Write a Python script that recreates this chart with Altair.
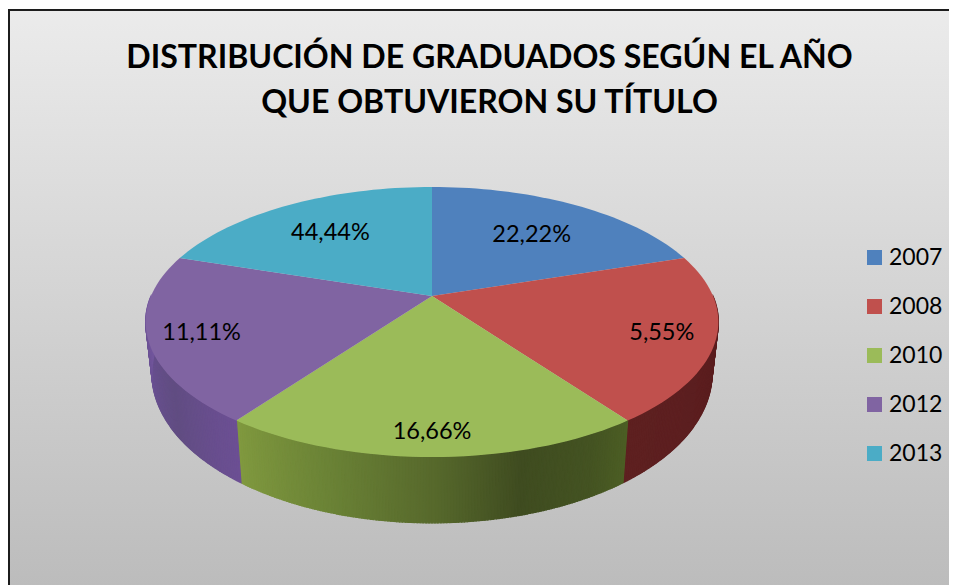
import math
import altair as alt

# ---- values
years = ["2007", "2008", "2010", "2012", "2013"]
slice_share = [20, 20, 20, 20, 20]  # the slices are drawn equal in the picture
slice_labels = ["22,22%", "5,55%", "16,66%", "11,11%", "44,44%"]
label_radius = [0.666, 0.818, 0.86, 0.82, 0.68]
top_colors = ["#4f81bd", "#c0504d", "#9bbb59", "#8064a2", "#4bacc6"]
title_lines = ["DISTRIBUCIÓN DE GRADUADOS SEGÚN EL AÑO", "QUE OBTUVIERON SU TÍTULO"]
side_angle_stops = [90, 100, 144, 144.01, 152, 165, 180, 198, 216, 216.01, 235, 255, 270]
side_color_stops = ["#702524", "#5a1d1f", "#5e2020", "#4c5e24", "#445322", "#3f4c20",
                    "#57692c", "#6b8336", "#80993f", "#6c4f94", "#614d82", "#6a5193", "#7558a0"]

FONT = "Lato"
OFFSET = 8  # page margin


# ---- tilted-circle projection of the pie (page pixels minus margin)
def top_face(rho, theta):
    u = rho * math.cos(theta)
    v = rho * math.sin(theta)
    w = 1 + 0.1926 * u
    return [432 - OFFSET + 281 * v / w, (296 - 73 * u) / w - OFFSET]


def bottom_face(theta):
    u, v = math.cos(theta), math.sin(theta)
    w = 1 + 0.19 * u
    return [432 - OFFSET + 275 * v / w, (345 - 78.5 * u) / w - OFFSET]


def hex_rgb(h):
    return [int(h[i:i + 2], 16) for i in (1, 3, 5)]


def side_color(deg):
    for i in range(len(side_angle_stops) - 1):
        a, b = side_angle_stops[i], side_angle_stops[i + 1]
        if a <= deg <= b:
            t = (deg - a) / (b - a)
            c0, c1 = hex_rgb(side_color_stops[i]), hex_rgb(side_color_stops[i + 1])
            return "#%02x%02x%02x" % tuple(round(p + (q - p) * t) for p, q in zip(c0, c1))
    return side_color_stops[-1]


total = sum(slice_share)
edges = [0.0]
for s in slice_share:
    edges.append(edges[-1] + 360.0 * s / total)

top_features = []
label_rows = []
for i, year in enumerate(years):
    a0, a1 = edges[i], edges[i + 1]
    ring = [top_face(0, 0)]
    n = 40
    for k in range(n + 1):
        ring.append(top_face(1, math.radians(a0 + (a1 - a0) * k / n)))
    ring.append(top_face(0, 0))
    top_features.append({"type": "Feature",
                         "properties": {"year": year},
                         "geometry": {"type": "Polygon", "coordinates": [ring]}})
    mid = math.radians((a0 + a1) / 2)
    x, y = top_face(label_radius[i], mid)
    label_rows.append({"x": x, "y": y, "label": slice_labels[i]})

side_features = []
STEP = 0.5
deg = 90.0
while deg < 270:
    d0, d1 = math.radians(deg), math.radians(deg + STEP)
    ring = [top_face(1, d0), top_face(1, d1), bottom_face(d1), bottom_face(d0), top_face(1, d0)]
    side_features.append({"type": "Feature",
                          "properties": {"fill": side_color(deg + STEP / 2)},
                          "geometry": {"type": "Polygon", "coordinates": [ring]}})
    deg += STEP

projection = dict(type="identity", scale=1, translate=[0, 0])

background = alt.Chart(alt.Data(values=[{"a": 1}])).mark_rect(
    fill=alt.LinearGradient(
        gradient="linear", x1=0, x2=0, y1=0, y2=1,
        stops=[alt.GradientStop(offset=0, color="#ebebeb"),
               alt.GradientStop(offset=1, color="#bbbbbb")]),
    stroke="#1c1c1c", strokeWidth=2,
).encode(x=alt.value(1), x2=alt.value(970), y=alt.value(2), y2=alt.value(590))

sides = alt.Chart(alt.Data(values=side_features)).mark_geoshape(strokeWidth=1.2).encode(
    fill=alt.Fill("properties.fill:N", scale=None),
    stroke=alt.Stroke("properties.fill:N", scale=None),
).project(**projection)

tops = alt.Chart(alt.Data(values=top_features)).mark_geoshape(strokeWidth=0).encode(
    color=alt.Color(
        "properties.year:N",
        scale=alt.Scale(domain=years, range=top_colors),
        legend=alt.Legend(
            title=None, orient="none", legendX=855, legendY=238,
            symbolType="square", symbolSize=225, symbolStrokeWidth=0, symbolOpacity=1,
            labelFont=FONT, labelFontSize=23, labelColor="#000000", labelLimit=100,
            labelOffset=3, rowPadding=25, padding=0,
        ),
    ),
).project(**projection)

labels = alt.Chart(alt.Data(values=label_rows)).mark_text(
    font=FONT, fontSize=23.5, color="#000000", align="center", baseline="middle", dy=2,
).encode(
    x=alt.X("x:Q", scale=None),
    y=alt.Y("y:Q", scale=None),
    text="label:N",
)

chart = alt.layer(background, sides, tops, labels).properties(
    width=941, height=577, padding=0,
    autosize=alt.AutoSizeParams(type="none"),
    background="white",
    title=alt.TitleParams(
        text=title_lines, frame="group", anchor="middle", orient="top",
        font=FONT, fontSize=32.1, fontWeight="bold", color="#000000",
        lineHeight=45, dx=11, dy=112, baseline="top", offset=0,
    ),
).configure_view(stroke=None)

chart.save("out.html", embed_options={"renderer": "svg", "actions": False})
